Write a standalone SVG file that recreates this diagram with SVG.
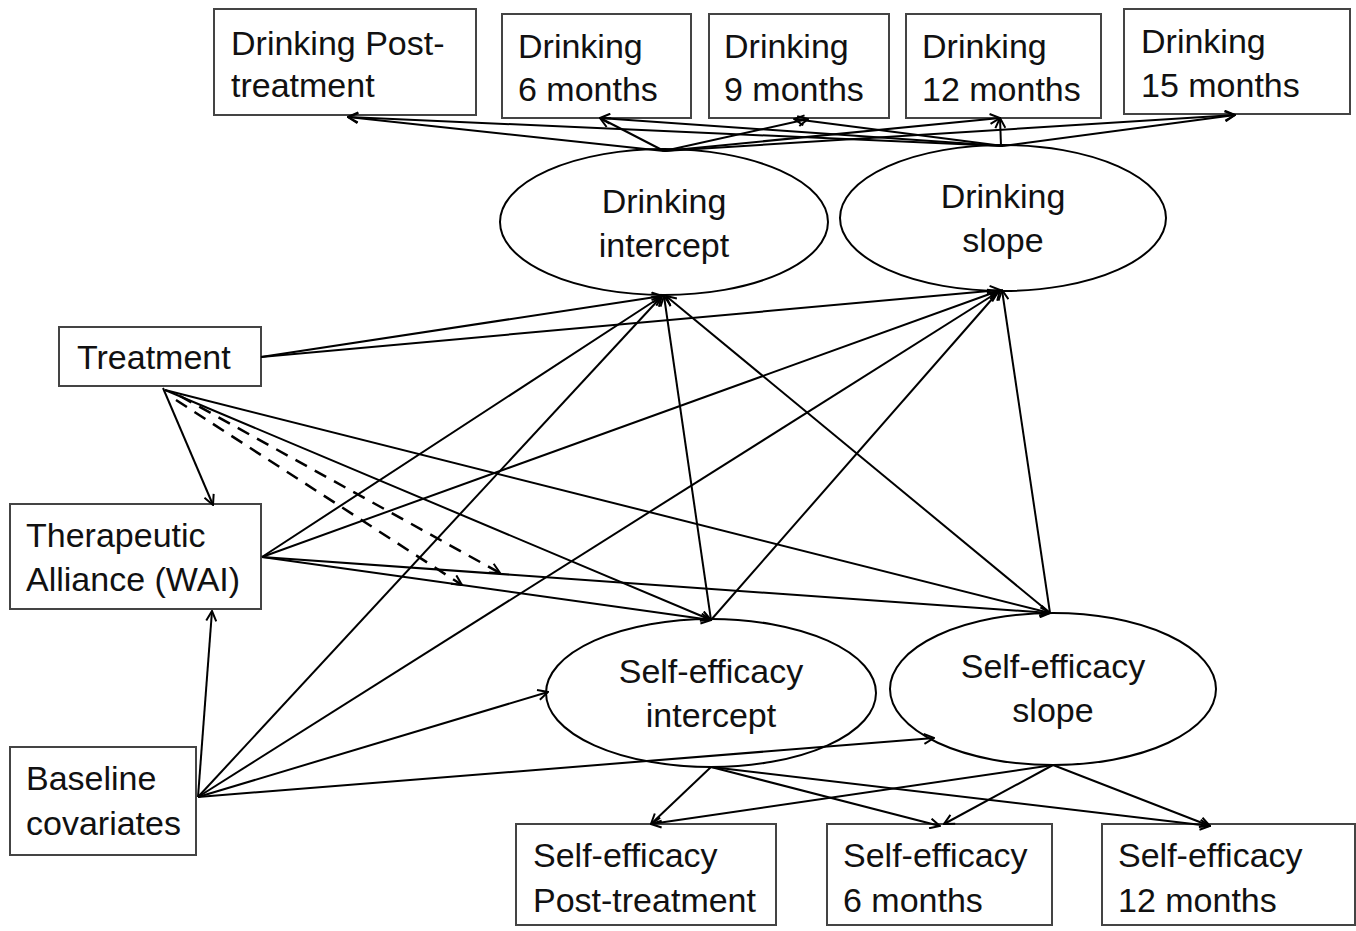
<svg xmlns="http://www.w3.org/2000/svg" width="1356" height="931" viewBox="0 0 1356 931">
<defs>
<marker id="ah" viewBox="0 0 12 12" refX="11" refY="6" markerWidth="12" markerHeight="12" markerUnits="userSpaceOnUse" orient="auto">
<path d="M1,1 L11,6 L1,11" fill="none" stroke="#000" stroke-width="2"/>
</marker>
</defs>
<style>
.box{fill:#fff;stroke:#444;stroke-width:2}
.ell{fill:#fff;stroke:#000;stroke-width:2}
text{font-family:"Liberation Sans",Arial,sans-serif;font-size:34px;fill:#111}
.c{text-anchor:middle}
.ln{fill:none;stroke:#000;stroke-width:2;marker-end:url(#ah)}
.ds{stroke-dasharray:13 9;stroke-width:2.5}
</style>
<rect width="1356" height="931" fill="#fff"/>

<g id="drink-post"><rect class="box" x="214" y="9" width="262" height="106"/><text x="231" y="55">Drinking Post-</text><text x="231" y="97">treatment</text></g>
<g id="drink-6"><rect class="box" x="502" y="14" width="189" height="104"/><text x="518" y="58">Drinking</text><text x="518" y="101">6 months</text></g>
<g id="drink-9"><rect class="box" x="709" y="14" width="180" height="104"/><text x="724" y="58">Drinking</text><text x="724" y="101">9 months</text></g>
<g id="drink-12"><rect class="box" x="906" y="14" width="195" height="104"/><text x="922" y="58">Drinking</text><text x="922" y="101">12 months</text></g>
<g id="drink-15"><rect class="box" x="1124" y="9" width="226" height="105"/><text x="1141" y="53">Drinking</text><text x="1141" y="97">15 months</text></g>

<g id="drink-intercept"><ellipse class="ell" cx="664" cy="222" rx="164" ry="73"/><text class="c" x="664" y="213">Drinking</text><text class="c" x="664" y="257">intercept</text></g>
<g id="drink-slope"><ellipse class="ell" cx="1003" cy="218" rx="163" ry="73"/><text class="c" x="1003" y="208">Drinking</text><text class="c" x="1003" y="252">slope</text></g>

<g id="treatment"><rect class="box" x="59" y="327" width="202" height="59"/><text x="77" y="369">Treatment</text></g>
<g id="wai"><rect class="box" x="10" y="504" width="251" height="105"/><text x="26" y="547">Therapeutic</text><text x="26" y="591">Alliance (WAI)</text></g>
<g id="baseline"><rect class="box" x="10" y="747" width="186" height="108"/><text x="26" y="790">Baseline</text><text x="26" y="835">covariates</text></g>

<g id="se-intercept"><ellipse class="ell" cx="711" cy="693" rx="165" ry="74"/><text class="c" x="711" y="683">Self-efficacy</text><text class="c" x="711" y="727">intercept</text></g>
<g id="se-slope"><ellipse class="ell" cx="1053" cy="689" rx="163" ry="76"/><text class="c" x="1053" y="678">Self-efficacy</text><text class="c" x="1053" y="722">slope</text></g>

<g id="se-post"><rect class="box" x="516" y="824" width="260" height="101"/><text x="533" y="867">Self-efficacy</text><text x="533" y="912">Post-treatment</text></g>
<g id="se-6"><rect class="box" x="827" y="824" width="225" height="101"/><text x="843" y="867">Self-efficacy</text><text x="843" y="912">6 months</text></g>
<g id="se-12"><rect class="box" x="1102" y="824" width="253" height="101"/><text x="1118" y="867">Self-efficacy</text><text x="1118" y="912">12 months</text></g>

<g id="connectors">
<line class="ln" x1="664" y1="151" x2="348" y2="117"/>
<line class="ln" x1="664" y1="151" x2="600" y2="118"/>
<line class="ln" x1="664" y1="151" x2="808" y2="119"/>
<line class="ln" x1="664" y1="151" x2="1000" y2="118"/>
<line class="ln" x1="664" y1="151" x2="1235" y2="115"/>
<line class="ln" x1="1003" y1="146" x2="348" y2="117"/>
<line class="ln" x1="1003" y1="146" x2="600" y2="118"/>
<line class="ln" x1="1003" y1="146" x2="794" y2="119"/>
<line class="ln" x1="1001" y1="146" x2="1000" y2="118"/>
<line class="ln" x1="1003" y1="146" x2="1235" y2="115"/>
<line class="ln" x1="261" y1="357" x2="662" y2="296"/>
<line class="ln" x1="261" y1="357" x2="1000" y2="290"/>
<line class="ln" x1="163" y1="388" x2="213" y2="505"/>
<line class="ln" x1="165" y1="390" x2="711" y2="620"/>
<line class="ln" x1="165" y1="390" x2="1050" y2="613"/>
<line class="ln ds" x1="180" y1="396" x2="500" y2="573"/>
<line class="ln ds" x1="176" y1="400" x2="462" y2="585"/>
<line class="ln" x1="262" y1="557" x2="662" y2="296"/>
<line class="ln" x1="262" y1="557" x2="998" y2="291"/>
<line class="ln" x1="262" y1="557" x2="711" y2="620"/>
<line class="ln" x1="262" y1="557" x2="1050" y2="613"/>
<line class="ln" x1="198" y1="797" x2="212" y2="611"/>
<line class="ln" x1="198" y1="797" x2="662" y2="296"/>
<line class="ln" x1="198" y1="797" x2="998" y2="292"/>
<line class="ln" x1="198" y1="797" x2="548" y2="692"/>
<line class="ln" x1="198" y1="797" x2="934" y2="738"/>
<line class="ln" x1="711" y1="620" x2="664" y2="296"/>
<line class="ln" x1="711" y1="620" x2="1000" y2="290"/>
<line class="ln" x1="1050" y1="613" x2="666" y2="296"/>
<line class="ln" x1="1050" y1="613" x2="1002" y2="290"/>
<line class="ln" x1="711" y1="767" x2="651" y2="824"/>
<line class="ln" x1="711" y1="767" x2="940" y2="826"/>
<line class="ln" x1="711" y1="767" x2="1210" y2="826"/>
<line class="ln" x1="1053" y1="765" x2="651" y2="824"/>
<line class="ln" x1="1053" y1="765" x2="944" y2="824"/>
<line class="ln" x1="1053" y1="765" x2="1210" y2="826"/>
</g>
</svg>
